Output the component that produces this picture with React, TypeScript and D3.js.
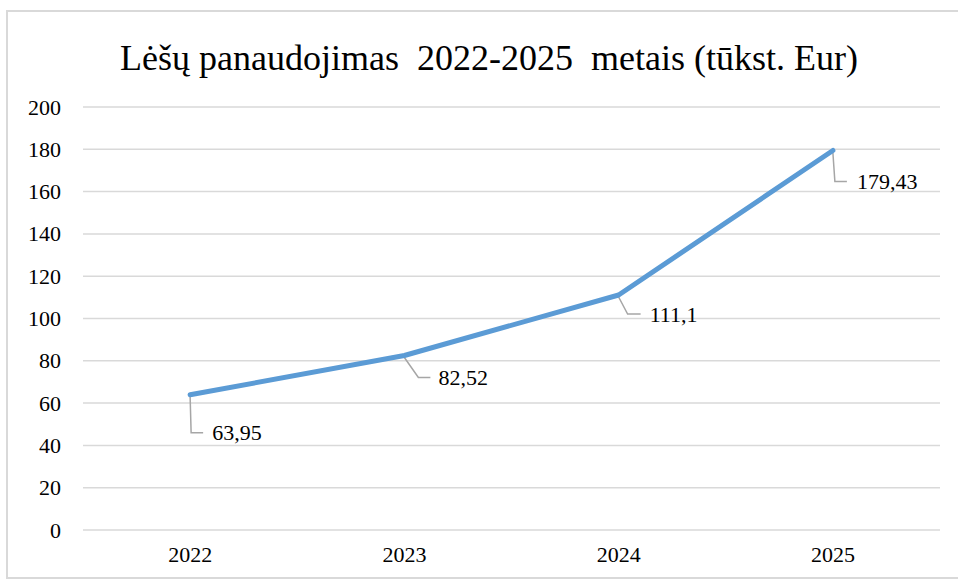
import React from 'react';
import * as d3 from 'd3';

const years = ['2022', '2023', '2024', '2025'];
const values = [63.95, 82.52, 111.1, 179.43];
const valueLabels = ['63,95', '82,52', '111,1', '179,43'];
const yTicks = [0, 20, 40, 60, 80, 100, 120, 140, 160, 180, 200];
const title = 'Lėšų panaudojimas \u00A02022-2025 \u00A0metais (tūkst. Eur)';

// leader line shape per label: bend offset from point, horizontal run, gap to text
const leaders = [
  { bx: 1, by: 38, run: 12, gap: 9 },
  { bx: 14, by: 22, run: 12, gap: 8 },
  { bx: 9, by: 19, run: 13, gap: 9 },
  { bx: 2, by: 31, run: 12, gap: 10 },
];

const W = 958;
const H = 580;
const serif = '"Liberation Serif"';

const App: React.FC = () => {
  const left = 83, right = 940, top = 107, bottom = 530;

  const x = d3.scaleBand().domain(years).range([left, right]);
  const y = d3.scaleLinear().domain([0, 200]).range([bottom, top]);
  const cx = (d: string) => (x(d) || 0) + x.bandwidth() / 2;

  const line = d3.line<number>()
    .x((d, i) => cx(years[i]))
    .y(d => y(d));

  const pts = years.map((d, i) => ({ x: cx(d), y: y(values[i]), label: valueLabels[i], l: leaders[i] }));

  return (
    <svg width={W} height={H} style={{ position: 'absolute', left: 0, top: 0 }}>
      {/* frame */}
      <rect x={7} y={11} width={W} height={567} fill="#fff" stroke="#d9d9d9" strokeWidth={2} />

      <text x={489} y={70} textAnchor="middle" fill="#000" style={{ fontFamily: serif, fontSize: 36 }}>
        {title}
      </text>

      {/* grid */}
      {yTicks.map(t => (
        <line key={t} x1={left} x2={right} y1={y(t)} y2={y(t)} stroke="#d9d9d9" strokeWidth={1.5} />
      ))}

      {/* y labels */}
      {yTicks.map(t => (
        <text key={t} x={61} y={y(t) + 7.5} textAnchor="end" fill="#000" style={{ fontFamily: serif, fontSize: 22 }}>
          {t}
        </text>
      ))}

      {/* x labels */}
      {years.map(d => (
        <text key={d} x={cx(d)} y={562} textAnchor="middle" fill="#000" style={{ fontFamily: serif, fontSize: 22 }}>
          {d}
        </text>
      ))}

      {/* leader lines */}
      {pts.map(p => (
        <path
          key={p.label}
          d={`M${p.x},${p.y + 2}L${p.x + p.l.bx},${p.y + p.l.by}L${p.x + p.l.bx + p.l.run},${p.y + p.l.by}`}
          fill="none"
          stroke="#a6a6a6"
          strokeWidth={1.5}
        />
      ))}

      {/* series line */}
      <path d={line(values) || ''} fill="none" stroke="#5b9bd5" strokeWidth={5} strokeLinecap="round" strokeLinejoin="round" />

      {/* data labels */}
      {pts.map(p => (
        <text
          key={p.label}
          x={p.x + p.l.bx + p.l.run + p.l.gap}
          y={p.y + p.l.by + 7.5}
          fill="#000"
          style={{ fontFamily: serif, fontSize: 22 }}
        >
          {p.label}
        </text>
      ))}
    </svg>
  );
};

export default App;
